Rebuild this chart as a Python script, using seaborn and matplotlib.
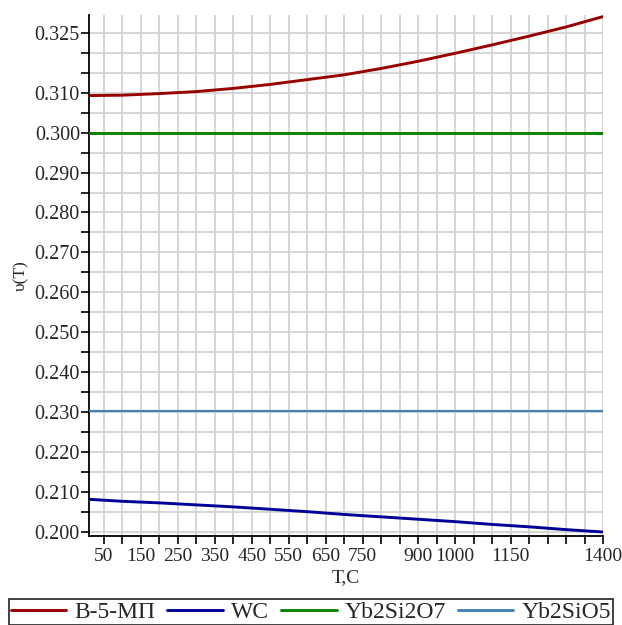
import numpy as np
import pandas as pd
import matplotlib
matplotlib.use("Agg")
import matplotlib.pyplot as plt
import seaborn as sns

# temperature grid, C
temps = [10, 100, 200, 300, 400, 500, 600, 700, 800, 900, 1000, 1100, 1200, 1300, 1400]
# Poisson ratio
b5mp = [0.3093, 0.3094, 0.3098, 0.3103, 0.3111, 0.3121, 0.3133, 0.3145,
        0.3161, 0.3179, 0.3199, 0.3220, 0.3242, 0.3265, 0.3291]
wc = [0.2081, 0.2076, 0.2072, 0.2067, 0.2062, 0.2056, 0.2050, 0.2043,
      0.2037, 0.2031, 0.2025, 0.2018, 0.2012, 0.2005, 0.1999]
flat_temps = [10, 1400]
yb2si2o7 = [0.300, 0.300]
yb2sio5 = [0.2302, 0.2302]

series_names = ["B-5-MП", "WC", "Yb2Si2O7", "Yb2SiO5"]
colors = ["#990000", "#000099", "#008000", "#4682b4"]

x_ticks = np.arange(50, 1401, 50)
x_labeled = [50, 150, 250, 350, 450, 550, 650, 750, 900, 1000, 1150, 1400]
y_ticks = np.round(np.arange(0.200, 0.3251, 0.005), 3)
y_labeled = [0.200, 0.210, 0.220, 0.230, 0.240, 0.250, 0.260, 0.270,
             0.280, 0.290, 0.300, 0.310, 0.325]

# long-format table for seaborn
frames = [
    pd.DataFrame({"T": temps, "nu": b5mp, "series": series_names[0]}),
    pd.DataFrame({"T": temps, "nu": wc, "series": series_names[1]}),
    pd.DataFrame({"T": flat_temps, "nu": yb2si2o7, "series": series_names[2]}),
    pd.DataFrame({"T": flat_temps, "nu": yb2sio5, "series": series_names[3]}),
]
df = pd.concat(frames, ignore_index=True)

sns.set_style("white")
plt.rcParams["font.family"] = ["Liberation Serif", "DejaVu Serif"]

fig = plt.figure(figsize=(6.22, 6.25), dpi=100)
ax = fig.add_axes([89 / 622, 1 - 536 / 625, (603 - 89) / 622, (536 - 15) / 625])

sns.lineplot(data=df, x="T", y="nu", hue="series", hue_order=series_names,
             palette=colors, linewidth=2.1, ax=ax, legend=False, zorder=3)
ax.lines[3].set_linewidth(1.6)

ax.set_xlim(10, 1400)
ax.set_ylim(0.1989, 0.3295)

ax.set_xticks(x_ticks)
ax.set_xticklabels([str(int(t)) if int(t) in x_labeled else "" for t in x_ticks])
ax.set_yticks(y_ticks)
ax.set_yticklabels([f"{v:.3f}" if any(abs(v - l) < 1e-6 for l in y_labeled) else "" for v in y_ticks])

ax.tick_params(axis="x", direction="out", length=6, width=1.2, color="black",
               labelsize=14, pad=2.5, bottom=True)
ax.tick_params(axis="y", direction="out", length=6, width=1.2, color="black",
               labelsize=14.5, pad=0.5, left=True)

ax.grid(True, color="#d3d3d3", linewidth=1.3, zorder=0)
ax.set_axisbelow(True)
for side in ["top", "right"]:
    ax.spines[side].set_visible(False)
for side in ["left", "bottom"]:
    ax.spines[side].set_color("black")
    ax.spines[side].set_linewidth(1.3)

ax.set_xlabel("T,C", fontsize=14, labelpad=3)
ax.set_ylabel("υ(T)", fontsize=12.5, labelpad=4)

leg = fig.legend(ax.lines[:4], series_names, loc="upper center",
                 bbox_to_anchor=(0.5, 1 - 599 / 625), ncol=4, fontsize=17,
                 frameon=True, fancybox=False, edgecolor="black",
                 handlelength=2.35, handletextpad=0.35, columnspacing=0.5,
                 borderpad=0.1, borderaxespad=0)
leg.get_frame().set_linewidth(1.3)
for h in leg.get_lines():
    h.set_linewidth(2.1)

fig.savefig("out.png", dpi=100)
